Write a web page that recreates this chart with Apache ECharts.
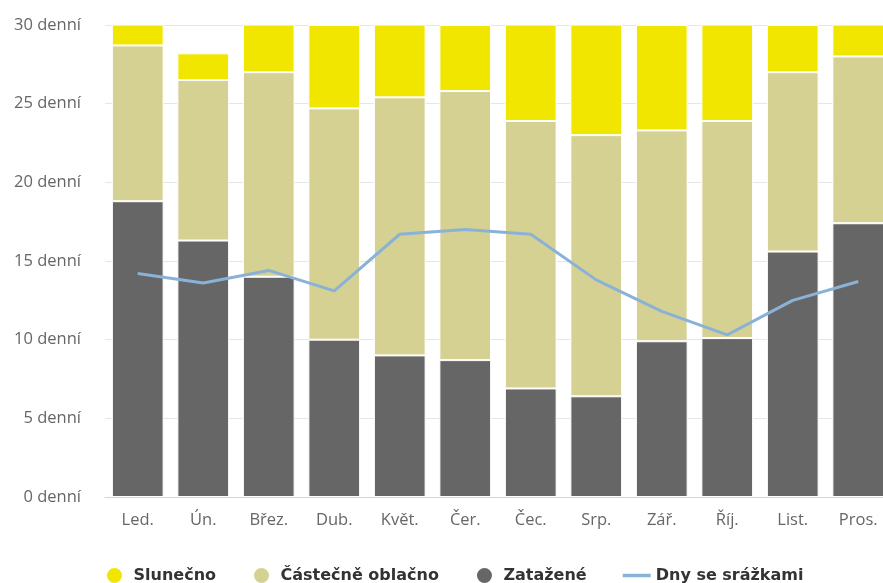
<!DOCTYPE html>
<html>
<head>
<meta charset="utf-8">
<script src="https://cdn.jsdelivr.net/npm/echarts@6/dist/echarts.min.js"></script>
<style>
  html, body { margin: 0; padding: 0; background: #fff; overflow: hidden; }
  /* graf přesahuje pravý okraj jako na předloze */
  #chart { width: 891px; height: 583px; }
</style>
</head>
<body>
<div id="chart"></div>
<script>
// měsíce
const months = ['Led.', 'Ún.', 'Břez.', 'Dub.', 'Květ.', 'Čer.', 'Čec.', 'Srp.', 'Zář.', 'Říj.', 'List.', 'Pros.'];
// dny podle typu počasí
const zatazene = [18.8, 16.3, 14.0, 10.0, 9.0, 8.7, 6.9, 6.4, 9.9, 10.1, 15.6, 17.4];
const castecne = [9.9, 10.2, 13.0, 14.7, 16.4, 17.1, 17.0, 16.6, 13.4, 13.8, 11.4, 10.6];
const slunecno = [2.3, 1.7, 4.0, 5.3, 5.6, 4.2, 7.1, 8.0, 6.7, 7.1, 3.0, 3.0];
// dny se srážkami
const srazky = [14.2, 13.6, 14.4, 13.1, 16.7, 17.0, 16.7, 13.8, 11.8, 10.3, 12.5, 13.7];

const chart = echarts.init(document.getElementById('chart'));

const barStyle = (color) => ({
    color: color,
    borderColor: '#ffffff',
    borderWidth: 1
});

const option = {
    animation: false,
    textStyle: { fontFamily: 'Open Sans' },
    grid: {
        left: 105,
        right: 0,
        top: 25,
        bottom: 86
    },
    legend: {
        left: 100,
        top: 561,
        itemWidth: 28,
        itemHeight: 17,
        itemGap: 36,
        textStyle: {
            color: '#333333',
            fontSize: 16,
            fontWeight: 'bold',
            fontFamily: 'DejaVu Sans'
        },
        data: [
            { name: 'Slunečno', icon: 'circle' },
            { name: 'Částečně oblačno', icon: 'circle' },
            { name: 'Zatažené', icon: 'circle' },
            { name: 'Dny se srážkami', icon: 'path://M0,0H24V3H0Z' }
        ]
    },
    xAxis: {
        type: 'category',
        data: months,
        axisLine: { lineStyle: { color: '#ccd6eb', width: 1 } },
        axisTick: { alignWithLabel: true, length: 10, lineStyle: { color: '#ccd6eb' } },
        axisLabel: { color: '#666666', fontSize: 16.5, margin: 15 }
    },
    yAxis: {
        type: 'value',
        min: 0,
        max: 30,
        interval: 5,
        axisLabel: {
            color: '#666666',
            fontSize: 16.5,
            margin: 24,
            formatter: '{value} denní'
        },
        splitLine: { lineStyle: { color: '#e6e6e6' } }
    },
    series: [
        {
            name: 'Zatažené',
            type: 'bar',
            stack: 'dny',
            barWidth: '79%',
            itemStyle: barStyle('#666666'),
            data: zatazene
        },
        {
            name: 'Částečně oblačno',
            type: 'bar',
            stack: 'dny',
            itemStyle: barStyle('#d5d192'),
            data: castecne
        },
        {
            name: 'Slunečno',
            type: 'bar',
            stack: 'dny',
            itemStyle: barStyle('#f1e600'),
            data: slunecno
        },
        {
            name: 'Dny se srážkami',
            type: 'line',
            symbol: 'none',
            lineStyle: { color: '#8ab2d7', width: 3 },
            itemStyle: { color: '#8ab2d7' },
            data: srazky
        }
    ]
};

chart.setOption(option);
window.addEventListener('resize', () => {
    chart.resize();
});
</script>
</body>
</html>
